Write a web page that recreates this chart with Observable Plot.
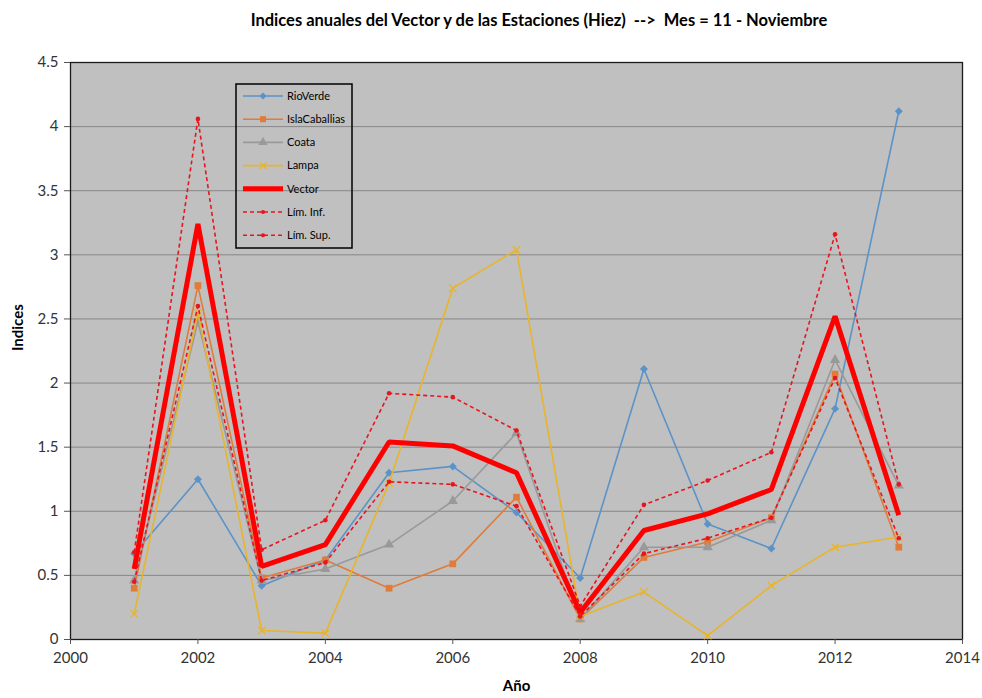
<!DOCTYPE html>
<html>
<head>
<meta charset="utf-8">
<script src="https://cdn.jsdelivr.net/npm/d3@7"></script>
<script src="https://cdn.jsdelivr.net/npm/@observablehq/plot@0.6"></script>
<style>
  html, body { margin: 0; padding: 0; background: #fff; }
  #wrap { position: relative; width: 982px; height: 698px; font-family: Lato, "Open Sans", sans-serif; }
  #title { position: absolute; left: 0; top: 10px; width: 1078px; text-align: center; font-weight: bold; font-size: 16.5px; color: #000; }
  #chart { position: absolute; left: 0; top: 40px; }
  #legend { position: absolute; left: 235px; top: 83px; }
</style>
</head>
<body>
<div id="wrap">
  <div id="title">Indices anuales del Vector y de las Estaciones (Hiez)&nbsp; --&gt;&nbsp; Mes = 11 - Noviembre</div>
  <div id="chart"></div>
  <div id="legend"></div>
</div>
<script>
const years = [2001, 2002, 2003, 2004, 2005, 2006, 2007, 2008, 2009, 2010, 2011, 2012, 2013];
const rioVerde      = [0.67, 1.25, 0.42, 0.62, 1.30, 1.35, 0.99, 0.48, 2.11, 0.90, 0.71, 1.80, 4.12];
const islaCaballias = [0.40, 2.76, 0.48, 0.62, 0.40, 0.59, 1.11, 0.16, 0.64, 0.76, 0.95, 2.07, 0.72];
const coata         = [0.46, 2.48, 0.46, 0.55, 0.74, 1.08, 1.61, 0.16, 0.72, 0.72, 0.93, 2.18, 1.20];
const lampa         = [0.20, 2.55, 0.07, 0.05, 1.22, 2.74, 3.04, 0.18, 0.37, 0.03, 0.42, 0.72, 0.80];
const vector        = [0.55, 3.24, 0.57, 0.74, 1.54, 1.51, 1.30, 0.21, 0.85, 0.98, 1.17, 2.52, 0.97];
const limInf        = [0.45, 2.60, 0.46, 0.60, 1.23, 1.21, 1.04, 0.18, 0.67, 0.79, 0.95, 2.04, 0.79];
const limSup        = [0.68, 4.06, 0.70, 0.93, 1.92, 1.89, 1.63, 0.26, 1.05, 1.24, 1.46, 3.16, 1.21];

const xTicks = [2000, 2002, 2004, 2006, 2008, 2010, 2012, 2014];
const yTicks = [0, 0.5, 1, 1.5, 2, 2.5, 3, 3.5, 4, 4.5];

const series = [
  {name: "RioVerde",      values: rioVerde,      color: "#5B93C8", width: 1.6, symbol: "diamond2", fill: true,  r: 3.6, dash: null},
  {name: "IslaCaballias", values: islaCaballias, color: "#E07B39", width: 1.6, symbol: "square",   fill: true,  r: 3.8, dash: null},
  {name: "Coata",         values: coata,         color: "#999999", width: 1.6, symbol: "triangle", fill: true,  r: 3.8, dash: null},
  {name: "Lampa",         values: lampa,         color: "#E8B42A", width: 1.6, symbol: "times",    fill: false, r: 3.5, dash: null},
  {name: "Vector",        values: vector,        color: "#FF0000", width: 5,   symbol: null,       fill: true,  r: 0,   dash: null},
  {name: "Lím. Inf.",     values: limInf,        color: "#E8141E", width: 1.6, symbol: "circle",   fill: true,  r: 2.3, dash: "4,3"},
  {name: "Lím. Sup.",     values: limSup,        color: "#E8141E", width: 1.6, symbol: "circle",   fill: true,  r: 2.3, dash: "4,3"}
];

const marks = [
  Plot.frame({fill: "#C0C0C0"}),
  Plot.gridY(yTicks, {stroke: "#878787", strokeOpacity: 1, strokeWidth: 1}),
  Plot.frame({stroke: "#1a1a1a", strokeWidth: 1.3}),
  Plot.axisX(xTicks, {tickSize: 5, tickPadding: 8, fontSize: 15, tickFormat: d => String(d), label: null, stroke: "#555", color: "#333"}),
  Plot.axisY(yTicks, {tickSize: 6, tickPadding: 6, fontSize: 15, tickFormat: d => String(d), label: null, stroke: "#555", color: "#333"})
];

for (const s of series) {
  const data = years.map((y, i) => ({year: y, value: s.values[i]}));
  marks.push(Plot.line(data, {x: "year", y: "value", stroke: s.color, strokeWidth: s.width, strokeDasharray: s.dash, strokeLinejoin: "miter", strokeLinecap: "butt"}));
  if (s.symbol) {
    marks.push(Plot.dot(data, {
      x: "year", y: "value", symbol: s.symbol, r: s.r,
      fill: s.fill ? s.color : "none",
      stroke: s.fill ? "none" : s.color,
      strokeWidth: s.fill ? 0 : 1.3
    }));
  }
}

const chart = Plot.plot({
  width: 982,
  height: 658,
  marginLeft: 70,
  marginRight: 20,
  marginTop: 22,
  marginBottom: 59,
  style: {fontFamily: "Lato, 'Open Sans', sans-serif", background: "transparent"},
  x: {domain: [2000, 2014], label: null},
  y: {domain: [0, 4.5], label: null},
  marks: [
    ...marks,
    Plot.text(["Año"], {frameAnchor: "bottom", dy: 51, fontSize: 15, fontWeight: "bold", fill: "#000"}),
    Plot.text(["Indices"], {frameAnchor: "left", dx: -52, rotate: -90, fontSize: 15, fontWeight: "bold", fill: "#000"})
  ]
});
document.getElementById("chart").appendChild(chart);

// Legend
const rowH = 23.2;
const lw = 116, lh = 164;
const leg = d3.select("#legend").append("svg")
  .attr("width", lw + 2).attr("height", lh + 2)
  .style("font-family", "Lato, 'Open Sans', sans-serif");
leg.append("rect").attr("x", 1).attr("y", 1).attr("width", lw).attr("height", lh)
  .attr("fill", "none").attr("stroke", "#000").attr("stroke-width", 1.5);
const symbolMap = {diamond2: d3.symbolDiamond2, square: d3.symbolSquare, triangle: d3.symbolTriangle, times: d3.symbolTimes, circle: d3.symbolCircle};
series.forEach((s, i) => {
  const cy = 13 + i * rowH;
  leg.append("line").attr("x1", 8).attr("x2", 48).attr("y1", cy).attr("y2", cy)
    .attr("stroke", s.color).attr("stroke-width", s.width === 5 ? 5 : 1.6)
    .attr("stroke-dasharray", s.dash);
  if (s.symbol) {
    const size = Math.PI * s.r * s.r * 0.8;
    leg.append("path").attr("d", d3.symbol(symbolMap[s.symbol], size)())
      .attr("transform", `translate(28,${cy})`)
      .attr("fill", s.fill ? s.color : "none")
      .attr("stroke", s.fill ? "none" : s.color).attr("stroke-width", 1.3);
  }
  leg.append("text").attr("x", 52).attr("y", cy).attr("dy", "0.35em")
    .attr("font-size", 11).attr("fill", "#000").text(s.name);
});
</script>
</body>
</html>
